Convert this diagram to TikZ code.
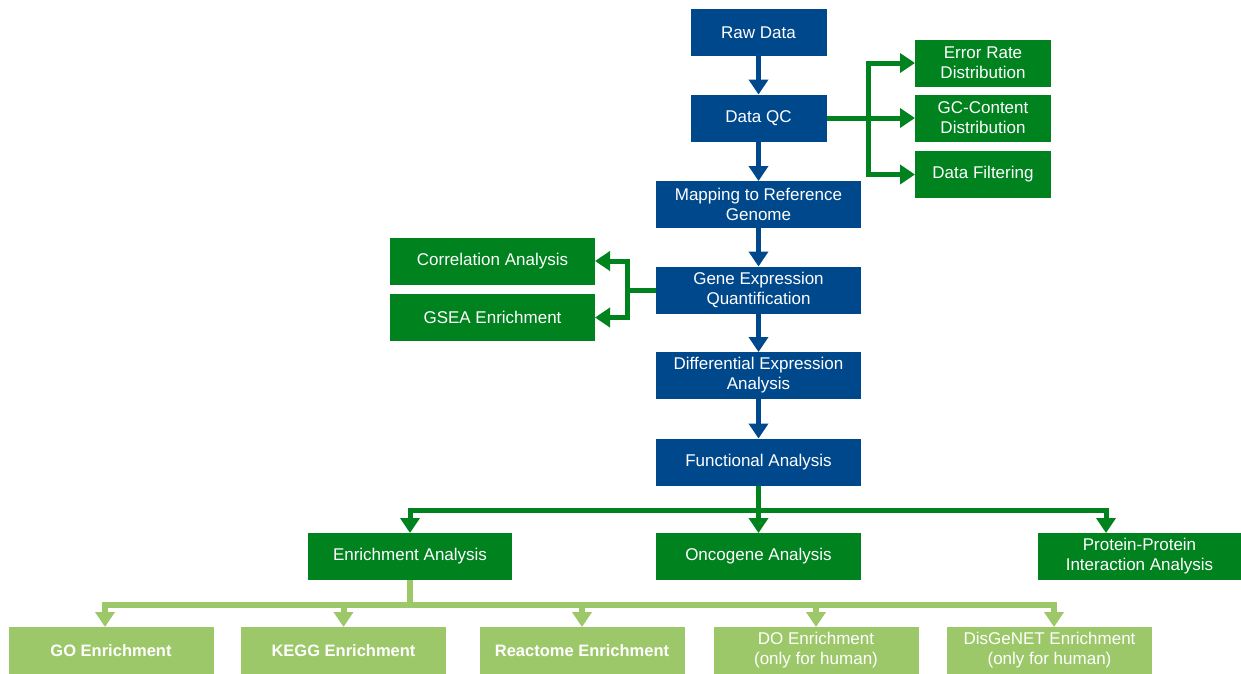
\documentclass[tikz,border=0pt]{standalone}
\usepackage{fontspec}
\setmainfont{Liberation Sans}
\usetikzlibrary{arrows.meta}
\definecolor{dblue}{RGB}{0,72,140}
\definecolor{dgreen}{RGB}{0,130,30}
\definecolor{lgreen}{RGB}{157,200,106}
\begin{document}
\begin{tikzpicture}[x=1pt,y=-1pt,
  box/.style={rectangle,inner sep=0pt,outer sep=0pt,text=white,align=center,
    font=\fontsize{17}{20}\selectfont},
  bbox/.style={box,fill=dblue,minimum height=47pt},
  gbox/.style={box,fill=dgreen,minimum height=47pt},
  lbox/.style={box,fill=lgreen,minimum height=47pt,minimum width=205pt},
  bline/.style={draw=dblue,line width=5pt},
  gline/.style={draw=dgreen,line width=5pt},
  lline/.style={draw=lgreen,line width=6pt},
  btip/.style={-{Triangle[width=19pt,length=15pt]}},
]
\useasboundingbox (0,0) rectangle (1241,673);
% blue main chain
\node[bbox,minimum width=136pt] (raw) at (758.5,32.5) {Raw Data};
\node[bbox,minimum width=136pt] (qc) at (758.5,118) {Data QC};
\node[bbox,minimum width=205pt] (map) at (758.5,204.5) {Mapping to Reference\\Genome};
\node[bbox,minimum width=205pt] (geq) at (758.5,290) {Gene Expression\\Quantification};
\node[bbox,minimum width=205pt] (dea) at (758.5,375.5) {Differential Expression\\Analysis};
\node[bbox,minimum width=205pt] (func) at (758.5,462) {Functional Analysis};
% QC outputs
\node[gbox,minimum width=136pt] (err) at (983,63) {Error Rate\\Distribution};
\node[gbox,minimum width=136pt] (gc) at (983,118) {GC-Content\\Distribution};
\node[gbox,minimum width=136pt] (filt) at (983,174.5) {Data Filtering};
% expression outputs
\node[gbox,minimum width=205pt] (corr) at (492.5,261) {Correlation Analysis};
\node[gbox,minimum width=205pt] (gsea) at (492.5,317.5) {GSEA Enrichment};
% functional outputs
\node[gbox,minimum width=204pt] (enr) at (410,556.5) {Enrichment Analysis};
\node[gbox,minimum width=205pt] (onc) at (758.5,556.5) {Oncogene Analysis};
\node[gbox,minimum width=204pt] (ppi) at (1139.5,556.5) {Protein-Protein\\Interaction Analysis};
% enrichment outputs
\node[lbox,font=\fontsize{16.5}{20}\selectfont\bfseries] (go) at (111,650.5) {GO Enrichment};
\node[lbox,font=\fontsize{16.5}{20}\selectfont\bfseries] (kegg) at (343.5,650.5) {KEGG Enrichment};
\node[lbox,font=\fontsize{16.5}{20}\selectfont\bfseries] (react) at (582,650.5) {Reactome Enrichment};
\node[lbox] (do) at (816,650.5) {DO Enrichment\\(only for human)};
\node[lbox] (dis) at (1049.5,650.5) {DisGeNET Enrichment\\(only for human)};
% blue connectors
\draw[bline,btip] (raw) -- (qc);
\draw[bline,btip] (qc) -- (map);
\draw[bline,btip] (map) -- (geq);
\draw[bline,btip] (geq) -- (dea);
\draw[bline,btip] (dea) -- (func);
% QC branch
\coordinate (j1) at (868,118);
\draw[gline,btip] (qc.east) -- (gc.west);
\draw[gline,btip] (j1) |- (err.west);
\draw[gline,btip] (j1) |- (filt.west);
% expression branch
\coordinate (j2) at (627,290);
\draw[gline] (geq.west) -- (j2);
\draw[gline,btip] (j2) |- (corr.east);
\draw[gline,btip] (j2) |- (gsea.east);
% functional branch
\coordinate (j3) at (758.5,510);
\coordinate (pa) at (1106,510);
\draw[gline] (func.south) -- (j3);
\draw[gline,btip] (j3) -| (enr.north);
\draw[gline,btip] (j3) -- (onc.north);
\draw[gline,btip] (j3) -- (pa) -- (pa |- ppi.north);
% enrichment branch
\coordinate (j4) at (410,605);
\coordinate (ga) at (105,605);
\coordinate (da) at (1054,605);
\draw[lline] (enr.south) -- (j4);
\draw[lline,btip] (j4) -- (ga) -- (ga |- go.north);
\draw[lline,btip] (j4) -| (kegg.north);
\draw[lline,btip] (j4) -| (react.north);
\draw[lline,btip] (j4) -| (do.north);
\draw[lline,btip] (j4) -- (da) -- (da |- dis.north);
\end{tikzpicture}
\end{document}
